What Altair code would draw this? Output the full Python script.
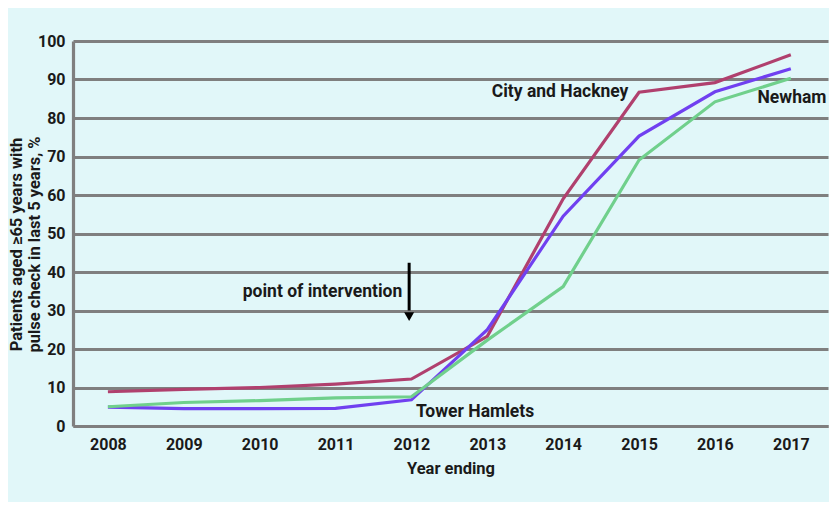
import altair as alt
import pandas as pd

years = [2008, 2009, 2010, 2011, 2012, 2013, 2014, 2015, 2016, 2017]
city_hackney = [8.9, 9.5, 10.0, 10.9, 12.2, 23.3, 59.0, 86.7, 89.2, 96.4]
tower_hamlets = [4.9, 4.5, 4.5, 4.6, 6.8, 25.0, 54.5, 75.3, 86.8, 92.8]
newham = [5.0, 6.1, 6.6, 7.3, 7.6, 22.3, 36.2, 69.1, 84.2, 90.3]
y_ticks = [0, 10, 20, 30, 40, 50, 60, 70, 80, 90, 100]

series_names = ["City and Hackney", "Tower Hamlets", "Newham"]
series_colors = ["#b0406e", "#7040f0", "#70d08c"]

rows = []
for name, vals in zip(series_names, [city_hackney, tower_hamlets, newham]):
    for yr, v in zip(years, vals):
        rows.append({"year": yr, "value": v, "series": name})
df = pd.DataFrame(rows)

labels = pd.DataFrame({
    "text": ["City and Hackney", "Newham", "Tower Hamlets", "point of intervention"],
    "year": [2014.86, 2017.47, 2012.06, 2011.88],
    "value": [86.8, 85.2, 3.7, 34.8],
    "align": ["right", "right", "left", "right"],
})

arrow = pd.DataFrame({"year": [2011.97], "value": [42.4], "value2": [30.0]})
arrow_head = pd.DataFrame({"year": [2011.97], "value": [28.4]})

FONT = "Roboto"
xscale = alt.Scale(domain=[2007.54, 2017.49], nice=False, zero=False)
yscale = alt.Scale(domain=[0, 100], nice=False)

xaxis = alt.Axis(values=years, format="d", title="Year ending",
                 grid=False, ticks=False, labelPadding=10,
                 titlePadding=8, labelOverlap=False)
yaxis = alt.Axis(values=y_ticks, tickCount=11, format="d",
                 title=["Patients aged \u226565 years with",
                        "pulse check in last 5 years, %"],
                 ticks=False, labelPadding=8, labelOverlap=False,
                 titleX=-65, titleY=203, titleBaseline="top",
                 titleAlign="center", titleAngle=-90)

X = alt.X("year:Q", scale=xscale, axis=xaxis, title="Year ending")
Y = alt.Y("value:Q", scale=yscale, axis=yaxis,
          title=["Patients aged \u226565 years with", "pulse check in last 5 years, %"])

lines = alt.Chart(df).mark_line(strokeWidth=3.2).encode(
    x=X, y=Y,
    color=alt.Color("series:N", scale=alt.Scale(domain=series_names, range=series_colors),
                    legend=None),
    order=alt.Order("series:N"),
)

def txt(align):
    return alt.Chart(labels[labels["align"] == align]).mark_text(
        font=FONT, fontWeight="bold", fontSize=17.5, color="#1a1a1a",
        align=align, baseline="middle").encode(x=X, y=Y, text="text:N")

rule = alt.Chart(arrow).mark_rule(color="black", strokeWidth=3).encode(
    x=X, y=Y, y2="value2:Q")
head = alt.Chart(arrow_head).mark_point(shape="triangle-down", filled=True,
                                        color="black", size=100, opacity=1).encode(
    x=X, y=Y)

chart = alt.layer(lines, txt("right"), txt("left"), rule, head).properties(
    width=755, height=385,
    autosize=alt.AutoSizeParams(type="none"),
    padding={"left": 65, "top": 33, "right": 1, "bottom": 76},
    background="#e1f7f9",
).configure_view(stroke=None).configure_axis(
    domainColor="#7f7f7f", domainWidth=3.2, gridColor="#7f7f7f", gridWidth=3.2,
    gridOpacity=1, labelFont=FONT, labelFontWeight="bold", labelFontSize=16,
    labelColor="#1a1a1a", titleFont=FONT, titleFontWeight="bold", titleFontSize=16.5,
    titleColor="#1a1a1a", titleLineHeight=18,
)

chart.save("out.html", embed_options={"renderer": "svg", "actions": False})
